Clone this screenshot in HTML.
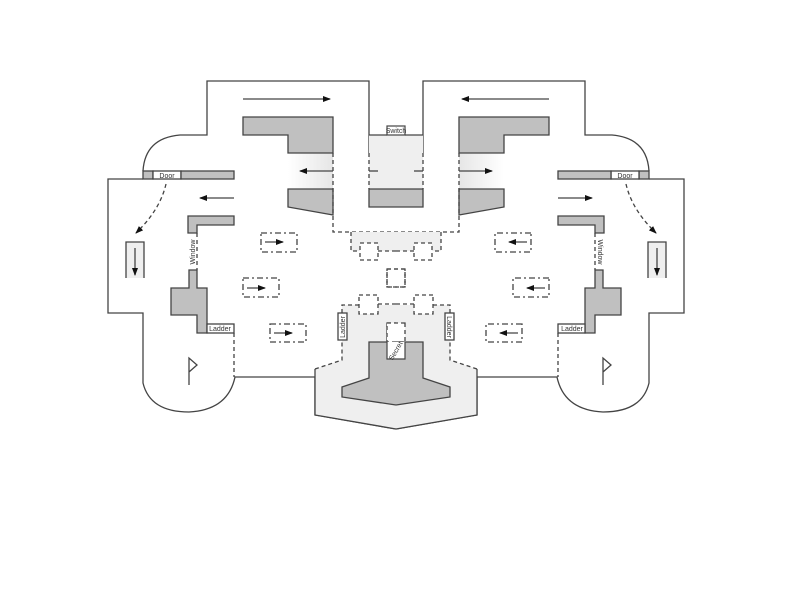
<!DOCTYPE html>
<html><head><meta charset="utf-8"><style>
html,body{margin:0;padding:0;background:#fff;}
svg{display:block;}
text{font-family:"Liberation Sans",sans-serif;font-size:7px;fill:#333;}
</style></head><body>
<svg width="792" height="612" viewBox="0 0 792 612" xmlns="http://www.w3.org/2000/svg">
<defs>
<linearGradient id="gr" x1="0" x2="1" y1="0" y2="0">
<stop offset="0" stop-color="#fff"/><stop offset="1" stop-color="#e6e6e6"/></linearGradient>
<marker id="ah" markerWidth="8" markerHeight="6" refX="7" refY="3" orient="auto" markerUnits="userSpaceOnUse">
<path d="M0,0 L8,3 L0,6 Z" fill="#111"/></marker>
<g id="half" stroke="#444" stroke-width="1.3">
  <path d="M369,153 L369,81 L207,81 L207,135 L180,135 Q145,138 143,171" fill="none"/>
  <path d="M143,179 L108,179 L108,313 L143,313 L143,383 Q150,412 189,412 Q228,410 235,377 L315,377 L315,415 L396,429" fill="none"/>
  <path d="M315,369 L342,360 L342,305 L396,305 L396,429 L315,415 Z" fill="#efefef" stroke="none"/>
  <path d="M315,369 L315,415 L396,429" fill="none"/>
  <path d="M315,369 L342,360 L342,340 M342,313 L342,305 L359,305" fill="none" stroke-dasharray="4,3"/>
  <path d="M378,304 L396,304" fill="none" stroke-dasharray="4,3"/>
  <rect x="359" y="295" width="19" height="19" fill="#fff" stroke-dasharray="4,3"/>
  <rect x="387" y="269" width="18" height="18" fill="none" stroke-dasharray="4,3"/>
  <rect x="387" y="323" width="18" height="19" fill="#fff" stroke-dasharray="4,3"/>
  <rect x="338" y="313" width="9" height="27" fill="#fff"/>
  <path d="M369,342 L387,342 L387,359 L396,359 L396,405 L342,397 L342,387 L369,378 Z" fill="#c0c0c0" stroke="none"/>
  <path d="M396,342 L369,342 L369,378 L342,387 L342,397 L396,405" fill="none"/>
  <rect x="369" y="135" width="27" height="54" fill="#efefef" stroke="none"/>
  <path d="M369,135 L387,135" fill="none"/>
  <path d="M369,153 L369,189" fill="none" stroke-dasharray="4,3"/>
  <path d="M369,171 L378,171" fill="none"/>
  <rect x="369" y="189" width="27" height="18" fill="#c0c0c0" stroke="none"/>
  <path d="M396,189 L369,189 L369,207 L396,207" fill="none"/>
  <rect x="288" y="153" width="45" height="36" fill="url(#gr)" stroke="none"/>
  <path d="M243,117 L333,117 L333,153 L288,153 L288,135 L243,135 Z" fill="#c0c0c0"/>
  <path d="M288,189 L333,189 L333,215 L288,207 Z" fill="#c0c0c0"/>
  <path d="M333,153 L333,232 L396,232" fill="none" stroke-dasharray="4,3"/>
  <rect x="351" y="232" width="45" height="19" fill="#efefef" stroke="none"/>
  <path d="M351,232 L351,251 L360,251 M378,251 L396,251" fill="none" stroke-dasharray="4,3"/>
  <rect x="360" y="243" width="18" height="17" fill="#fff" stroke-dasharray="4,3"/>
  <line x1="243" y1="99" x2="330" y2="99" marker-end="url(#ah)"/>
  <line x1="333" y1="171" x2="300" y2="171" marker-end="url(#ah)"/>
  <line x1="234" y1="198" x2="200" y2="198" marker-end="url(#ah)"/>
  <rect x="143" y="171" width="10" height="8" fill="#c0c0c0"/>
  <rect x="153" y="171" width="28" height="8" fill="#fff"/>
  <rect x="181" y="171" width="53" height="8" fill="#c0c0c0"/>
  <path d="M166,184 Q160,210 136,233" fill="none" stroke-dasharray="4,3" marker-end="url(#ah)"/>
  <path d="M126,278 L126,242 L144,242 L144,278" fill="#efefef"/>
  <line x1="135" y1="248" x2="135" y2="275" marker-end="url(#ah)"/>
  <path d="M188,216 L234,216 L234,225 L197,225 L197,233 L188,233 Z" fill="#c0c0c0"/>
  <path d="M197,233 L197,270" fill="none" stroke-dasharray="4,3"/>
  <path d="M189,270 L197,270 L197,288 L207,288 L207,315 L207,333 L197,333 L197,315 L171,315 L171,288 L189,288 Z" fill="#c0c0c0"/>
  <rect x="207" y="324" width="27" height="9" fill="#fff"/>
  <path d="M234,333 L234,377" fill="none" stroke-dasharray="4,3"/>
  <rect x="261" y="233" width="36" height="19" fill="none" stroke-dasharray="6,3,2,3"/>
  <rect x="243" y="278" width="36" height="19" fill="none" stroke-dasharray="6,3,2,3"/>
  <rect x="270" y="324" width="36" height="18" fill="none" stroke-dasharray="6,3,2,3"/>
  <line x1="265" y1="242" x2="283" y2="242" marker-end="url(#ah)"/>
  <line x1="247" y1="288" x2="265" y2="288" marker-end="url(#ah)"/>
  <line x1="274" y1="333" x2="292" y2="333" marker-end="url(#ah)"/>
</g>
</defs>
<use href="#half"/>
<use href="#half" transform="translate(792,0) scale(-1,1)"/>
<path d="M189,385 L189,358 L197,365 L189,372" fill="none" stroke="#444" stroke-width="1.3"/>
<path d="M603,385 L603,358 L611,365 L603,372" fill="none" stroke="#444" stroke-width="1.3"/>
<rect x="387" y="126" width="18" height="9" fill="#fff" stroke="#444" stroke-width="1.2"/>
<text x="396" y="133" text-anchor="middle" font-size="6">Switch</text>
<path d="M387,342 L387,359 L405,359 L405,342" fill="#fff" stroke="#444" stroke-width="1.2"/>
<text x="396" y="353" text-anchor="middle" font-size="6" transform="rotate(-60 396 351)">Secret</text>
<text x="167" y="178" text-anchor="middle">Door</text>
<text x="625" y="178" text-anchor="middle">Door</text>
<text x="220" y="331" text-anchor="middle">Ladder</text>
<text x="572" y="331" text-anchor="middle">Ladder</text>
<text transform="translate(195,252) rotate(-90)" text-anchor="middle">Window</text>
<text transform="translate(598,252) rotate(90)" text-anchor="middle">Window</text>
<text transform="translate(345,327) rotate(-90)" text-anchor="middle">Ladder</text>
<text transform="translate(447,327) rotate(90)" text-anchor="middle">Ladder</text>
</svg>
</body></html>
